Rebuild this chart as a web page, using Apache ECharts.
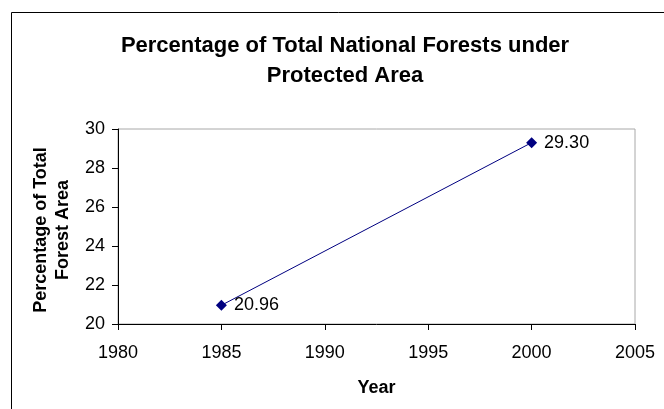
<!DOCTYPE html>
<html>
<head>
<meta charset="utf-8">
<script src="https://cdn.jsdelivr.net/npm/echarts@6/dist/echarts.min.js"></script>
<style>
  html, body { margin: 0; padding: 0; background: #fff; }
  #chart { width: 664px; height: 409px; }
</style>
</head>
<body>
<div id="chart"></div>
<script>
// Share of national forests lying inside protected areas
const years = [1985, 2000];
const percentProtected = [20.96, 29.30];
const valueLabels = ['20.96', '29.30'];

const xTicks = { min: 1980, max: 2005, interval: 5 };
const yTicks = { min: 20, max: 30, interval: 2 };

const FONT = '"Liberation Sans", Arial, sans-serif';

const chart = echarts.init(document.getElementById('chart'), null, { renderer: 'canvas' });

chart.setOption({
  backgroundColor: '#ffffff',
  animation: false,
  title: {
    text: 'Percentage of Total National Forests under\nProtected Area',
    left: 340,
    top: 26,
    textAlign: 'center',
    textStyle: {
      fontFamily: FONT,
      fontSize: 22,
      fontWeight: 'bold',
      color: '#000',
      lineHeight: 30
    }
  },
  graphic: [
    {
      // outer chart frame
      type: 'rect',
      shape: { x: 11.5, y: 12.5, width: 720, height: 500 },
      style: { fill: 'none', stroke: '#000', lineWidth: 1 },
      z: -1
    },
    {
      // vertical axis title, two lines reading bottom to top
      type: 'text',
      x: 30,
      y: 230,
      rotation: Math.PI / 2,
      style: {
        text: 'Percentage of Total\nForest Area',
        font: 'bold 18px ' + FONT,
        fill: '#000',
        align: 'center',
        verticalAlign: 'top',
        lineHeight: 22
      }
    }
  ],
  grid: {
    left: 118,
    right: 29,
    top: 129,
    bottom: 85,
    show: true,
    borderColor: '#a8a8a8',
    borderWidth: 1,
    backgroundColor: 'transparent'
  },
  xAxis: {
    type: 'value',
    min: xTicks.min,
    max: xTicks.max,
    interval: xTicks.interval,
    name: 'Year',
    nameLocation: 'middle',
    nameGap: 55,
    nameTextStyle: { fontFamily: FONT, fontSize: 18, fontWeight: 'bold', color: '#000' },
    axisLine: { show: true, onZero: false, lineStyle: { color: '#000', width: 1 } },
    axisTick: { show: true, length: 6, inside: false, lineStyle: { color: '#000' } },
    axisLabel: {
      fontFamily: FONT, fontSize: 18, color: '#000', margin: 20,
      formatter: v => String(v)
    },
    splitLine: { show: false }
  },
  yAxis: {
    type: 'value',
    min: yTicks.min,
    max: yTicks.max,
    interval: yTicks.interval,
    axisLine: { show: true, lineStyle: { color: '#000', width: 1 } },
    axisTick: { show: true, length: 6, inside: false, lineStyle: { color: '#000' } },
    axisLabel: { fontFamily: FONT, fontSize: 18, color: '#000', margin: 13 },
    splitLine: { show: false }
  },
  series: [{
    type: 'line',
    data: years.map((y, i) => [y, percentProtected[i]]),
    symbol: 'diamond',
    symbolSize: 11,
    lineStyle: { color: '#000080', width: 1 },
    itemStyle: { color: '#000080' },
    label: {
      show: true,
      position: 'right',
      distance: 7,
      fontFamily: FONT,
      fontSize: 18,
      color: '#000',
      formatter: p => valueLabels[p.dataIndex]
    }
  }]
});
</script>
</body>
</html>
